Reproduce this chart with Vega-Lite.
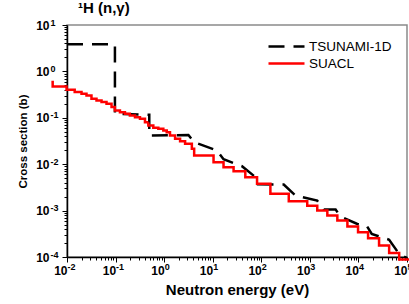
{
  "$schema": "https://vega.github.io/schema/vega-lite/v6.json",
  "autosize": "none",
  "width": 340,
  "height": 232,
  "padding": {"left": 67, "top": 25, "right": 2, "bottom": 47},
  "background": "white",
  "config": {
    "view": {"stroke": "#8a8a8a", "strokeWidth": 1.5},
    "font": "Liberation Sans"
  },
  "title": {
    "text": "¹H (n,γ)",
    "anchor": "start",
    "frame": "group",
    "align": "left",
    "dx": 11,
    "offset": 2,
    "font": "Liberation Sans",
    "fontSize": 15,
    "fontWeight": "bold",
    "color": "black"
  },
  "datasets": {
    "tsunami": [
      {"series": "TSUNAMI-1D", "E": 0.01, "sigma": 3.83},
      {"series": "TSUNAMI-1D", "E": 0.097, "sigma": 3.83},
      {"series": "TSUNAMI-1D", "E": 0.097, "sigma": 0.122},
      {"series": "TSUNAMI-1D", "E": 0.494, "sigma": 0.116},
      {"series": "TSUNAMI-1D", "E": 0.494, "sigma": 0.0416},
      {"series": "TSUNAMI-1D", "E": 3.16, "sigma": 0.0425},
      {"series": "TSUNAMI-1D", "E": 4.14, "sigma": 0.0298},
      {"series": "TSUNAMI-1D", "E": 12.2, "sigma": 0.0197},
      {"series": "TSUNAMI-1D", "E": 16.7, "sigma": 0.0128},
      {"series": "TSUNAMI-1D", "E": 40.0, "sigma": 0.00906},
      {"series": "TSUNAMI-1D", "E": 71.9, "sigma": 0.00551},
      {"series": "TSUNAMI-1D", "E": 84.4, "sigma": 0.0037},
      {"series": "TSUNAMI-1D", "E": 290, "sigma": 0.00365},
      {"series": "TSUNAMI-1D", "E": 506, "sigma": 0.00211},
      {"series": "TSUNAMI-1D", "E": 1419, "sigma": 0.00164},
      {"series": "TSUNAMI-1D", "E": 1946, "sigma": 0.00105},
      {"series": "TSUNAMI-1D", "E": 3390, "sigma": 0.00105},
      {"series": "TSUNAMI-1D", "E": 4300, "sigma": 0.000743},
      {"series": "TSUNAMI-1D", "E": 9510, "sigma": 0.000515},
      {"series": "TSUNAMI-1D", "E": 14800, "sigma": 0.000474},
      {"series": "TSUNAMI-1D", "E": 18800, "sigma": 0.000313},
      {"series": "TSUNAMI-1D", "E": 42900, "sigma": 0.000236},
      {"series": "TSUNAMI-1D", "E": 69000, "sigma": 0.000116},
      {"series": "TSUNAMI-1D", "E": 100000, "sigma": 0.000095}
    ],
    "suacl": [
      {"series": "SUACL", "E": 0.00477, "sigma": 0.589},
      {"series": "SUACL", "E": 0.00507, "sigma": 0.475},
      {"series": "SUACL", "E": 0.0098, "sigma": 0.403},
      {"series": "SUACL", "E": 0.0144, "sigma": 0.358},
      {"series": "SUACL", "E": 0.0199, "sigma": 0.330},
      {"series": "SUACL", "E": 0.0252, "sigma": 0.304},
      {"series": "SUACL", "E": 0.0319, "sigma": 0.258},
      {"series": "SUACL", "E": 0.0405, "sigma": 0.237},
      {"series": "SUACL", "E": 0.0514, "sigma": 0.218},
      {"series": "SUACL", "E": 0.0651, "sigma": 0.201},
      {"series": "SUACL", "E": 0.0826, "sigma": 0.170},
      {"series": "SUACL", "E": 0.0968, "sigma": 0.144},
      {"series": "SUACL", "E": 0.123, "sigma": 0.132},
      {"series": "SUACL", "E": 0.156, "sigma": 0.122},
      {"series": "SUACL", "E": 0.197, "sigma": 0.112},
      {"series": "SUACL", "E": 0.251, "sigma": 0.103},
      {"series": "SUACL", "E": 0.318, "sigma": 0.0955},
      {"series": "SUACL", "E": 0.403, "sigma": 0.0806},
      {"series": "SUACL", "E": 0.472, "sigma": 0.0684},
      {"series": "SUACL", "E": 0.598, "sigma": 0.0610},
      {"series": "SUACL", "E": 0.759, "sigma": 0.0581},
      {"series": "SUACL", "E": 0.962, "sigma": 0.0533},
      {"series": "SUACL", "E": 1.13, "sigma": 0.0490},
      {"series": "SUACL", "E": 1.32, "sigma": 0.0416},
      {"series": "SUACL", "E": 1.68, "sigma": 0.0353},
      {"series": "SUACL", "E": 2.13, "sigma": 0.0313},
      {"series": "SUACL", "E": 2.70, "sigma": 0.0275},
      {"series": "SUACL", "E": 3.72, "sigma": 0.0215},
      {"series": "SUACL", "E": 4.15, "sigma": 0.0154},
      {"series": "SUACL", "E": 10.4, "sigma": 0.0110},
      {"series": "SUACL", "E": 16.7, "sigma": 0.00861},
      {"series": "SUACL", "E": 26.9, "sigma": 0.00706},
      {"series": "SUACL", "E": 46.9, "sigma": 0.00524},
      {"series": "SUACL", "E": 81.8, "sigma": 0.00378},
      {"series": "SUACL", "E": 154, "sigma": 0.00230},
      {"series": "SUACL", "E": 368, "sigma": 0.00159},
      {"series": "SUACL", "E": 883, "sigma": 0.00128},
      {"series": "SUACL", "E": 1420, "sigma": 0.00100},
      {"series": "SUACL", "E": 2290, "sigma": 0.000781},
      {"series": "SUACL", "E": 3680, "sigma": 0.000610},
      {"series": "SUACL", "E": 5930, "sigma": 0.000452},
      {"series": "SUACL", "E": 9820, "sigma": 0.000340},
      {"series": "SUACL", "E": 15800, "sigma": 0.000253},
      {"series": "SUACL", "E": 26600, "sigma": 0.000176},
      {"series": "SUACL", "E": 42900, "sigma": 0.000122},
      {"series": "SUACL", "E": 69000, "sigma": 0.000088},
      {"series": "SUACL", "E": 115000, "sigma": 0.000088}
    ]
  },
  "encoding": {
    "color": {
      "field": "series",
      "type": "nominal",
      "scale": {"domain": ["TSUNAMI-1D", "SUACL"], "range": ["#000000", "#ff0000"]},
      "legend": {
        "title": null,
        "orient": "none",
        "legendX": 212,
        "legendY": 14,
        "symbolType": "M-3,0H3",
        "symbolSize": 144,
        "symbolStrokeWidth": 2.5,
        "labelFont": "Liberation Sans",
        "labelFontSize": 13.5,
        "labelColor": "black",
        "labelOffset": 15,
        "rowPadding": 3
      }
    },
    "strokeDash": {
      "field": "series",
      "type": "nominal",
      "scale": {"domain": ["TSUNAMI-1D", "SUACL"], "range": [[16, 9], [1, 0]]},
      "legend": null
    }
  },
  "resolve": {"scale": {"x": "independent", "y": "independent"}},
  "layer": [
    {
      "data": {"name": "tsunami"},
      "mark": {"type": "line", "strokeWidth": 2.5, "clip": false},
      "encoding": {
        "order": {"value": null},
        "x": {
          "field": "E",
          "type": "quantitative",
          "scale": {"type": "log", "domain": [0.01, 100000], "nice": false},
          "axis": {
            "orient": "bottom",
            "title": "Neutron energy (eV)",
            "titleFont": "Liberation Sans",
            "titleFontSize": 15,
            "titleFontWeight": "bold",
            "titleColor": "black",
            "titlePadding": 6,
            "values": [0.01,0.02,0.03,0.04,0.05,0.06,0.07,0.08,0.09,0.1,0.2,0.3,0.4,0.5,0.6,0.7,0.8,0.9,1,2,3,4,5,6,7,8,9,10,20,30,40,50,60,70,80,90,100,200,300,400,500,600,700,800,900,1000,2000,3000,4000,5000,6000,7000,8000,9000,10000,20000,30000,40000,50000,60000,70000,80000,90000,100000],
            "labelExpr": "abs(log(datum.value)/LN10 - round(log(datum.value)/LN10)) < 0.001 ? '10' : ''",
            "labelFont": "Liberation Sans",
            "labelFontSize": 12,
            "labelFontWeight": "bold",
            "labelColor": "black",
            "labelAlign": "right",
            "labelDx": 2,
            "labelOverlap": false,
            "labelBound": false,
            "labelFlush": false,
            "labelPadding": 3,
            "domainColor": "black",
            "domainWidth": 1.5,
            "tickColor": "black",
            "tickWidth": 1,
            "tickSize": {"condition": {"test": "abs(log(datum.value)/LN10 - round(log(datum.value)/LN10)) < 0.001", "value": 5}, "value": 3},
            "grid": false
          }
        },
        "y": {
          "field": "sigma",
          "type": "quantitative",
          "scale": {"type": "log", "domain": [0.0001, 10], "nice": false},
          "axis": {
            "orient": "left",
            "title": "Cross section (b)",
            "titleFont": "Liberation Sans",
            "titleFontSize": 11.5,
            "titleFontWeight": "bold",
            "titleColor": "black",
            "titlePadding": 7,
            "values": [0.0001,0.0002,0.0003,0.0004,0.0005,0.0006,0.0007,0.0008,0.0009,0.001,0.002,0.003,0.004,0.005,0.006,0.007,0.008,0.009,0.01,0.02,0.03,0.04,0.05,0.06,0.07,0.08,0.09,0.1,0.2,0.3,0.4,0.5,0.6,0.7,0.8,0.9,1,2,3,4,5,6,7,8,9,10],
            "labelExpr": "abs(log(datum.value)/LN10 - round(log(datum.value)/LN10)) < 0.001 ? '10' : ''",
            "labelFont": "Liberation Sans",
            "labelFontSize": 12,
            "labelFontWeight": "bold",
            "labelColor": "black",
            "labelOverlap": false,
            "labelBound": false,
            "labelFlush": false,
            "labelPadding": 13,
            "domainColor": "black",
            "domainWidth": 1.5,
            "tickColor": "black",
            "tickWidth": 1,
            "tickSize": {"condition": {"test": "abs(log(datum.value)/LN10 - round(log(datum.value)/LN10)) < 0.001", "value": 5}, "value": 3},
            "grid": false
          }
        }
      }
    },
    {
      "data": {"name": "suacl"},
      "mark": {"type": "line", "strokeWidth": 2.5, "interpolate": "step-after", "clip": false},
      "encoding": {
        "order": {"value": null},
        "x": {
          "field": "E",
          "type": "quantitative",
          "scale": {"type": "log", "domain": [0.01, 100000], "nice": false},
          "axis": {
            "orient": "bottom",
            "title": null,
            "values": [0.01, 0.1, 1, 10, 100, 1000, 10000, 100000],
            "labelExpr": "['-4','-3','-2','-1','0','1','2','3','4','5'][round(log(datum.value)/LN10) + 4]",
            "labelFont": "Liberation Sans",
            "labelFontSize": 9,
            "labelFontWeight": "bold",
            "labelColor": "black",
            "labelAlign": "left",
            "labelDx": 3,
            "labelOverlap": false,
            "labelBound": false,
            "labelFlush": false,
            "labelPadding": 5,
            "ticks": false,
            "tickSize": 0,
            "domain": false,
            "grid": false
          }
        },
        "y": {
          "field": "sigma",
          "type": "quantitative",
          "scale": {"type": "log", "domain": [0.0001, 10], "nice": false},
          "axis": {
            "orient": "left",
            "title": null,
            "values": [0.0001, 0.001, 0.01, 0.1, 1, 10],
            "labelExpr": "['-4','-3','-2','-1','0','1','2','3','4','5'][round(log(datum.value)/LN10) + 4]",
            "labelFont": "Liberation Sans",
            "labelFontSize": 9,
            "labelFontWeight": "bold",
            "labelColor": "black",
            "labelAlign": "left",
            "labelBaseline": "alphabetic",
            "labelDy": -1,
            "labelOverlap": false,
            "labelBound": false,
            "labelFlush": false,
            "labelPadding": 17,
            "ticks": false,
            "tickSize": 0,
            "domain": false,
            "grid": false
          }
        }
      }
    }
  ]
}
